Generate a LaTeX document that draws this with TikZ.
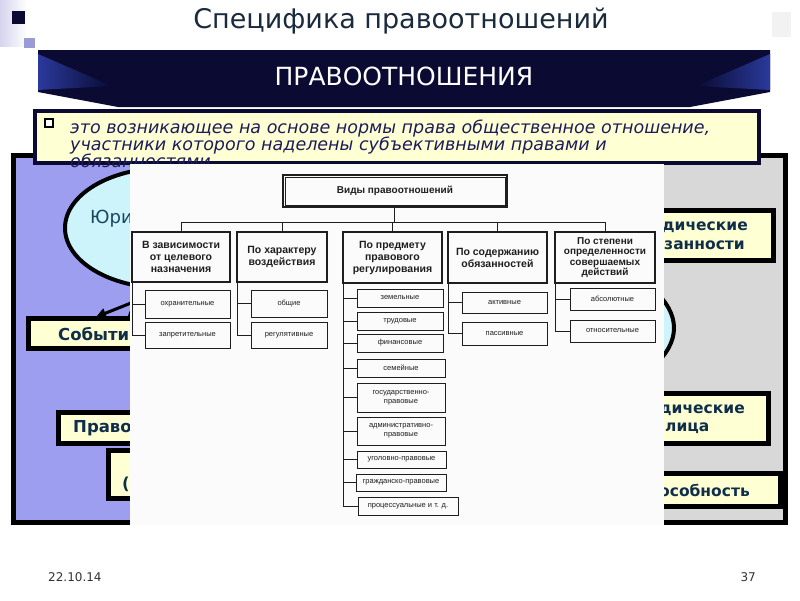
\documentclass[tikz,border=0pt]{standalone}
\usepackage{fontspec}
\setmainfont{DejaVu Sans}
\newfontfamily\scanfont{Liberation Sans}
\usetikzlibrary{arrows.meta,shapes.geometric}
\definecolor{navy}{HTML}{0A0A32}
\definecolor{foldblue}{HTML}{2A3A9C}
\definecolor{titlecol}{HTML}{1B2B3E}
\definecolor{defcol}{HTML}{1C1C5A}
\definecolor{cream}{HTML}{FFFFD4}
\definecolor{lavpanel}{HTML}{9E9EF0}
\definecolor{greypanel}{HTML}{D8D8D8}
\definecolor{cyanfill}{HTML}{CCF4FA}
\definecolor{boxtext}{HTML}{0E2E4A}
\definecolor{scanink}{HTML}{1E1E1E}
\definecolor{scanbg}{HTML}{FBFBFB}
\definecolor{footcol}{HTML}{333333}
\definecolor{lavtop}{HTML}{D4D4EE}
\definecolor{lavsq}{HTML}{9A9AD6}
\definecolor{factcol}{HTML}{1A4560}
\begin{document}
\begin{tikzpicture}[x=1pt,y=-1pt,
  slbox/.style={draw=black, line width=5pt, fill=cream, inner sep=0pt, outer sep=0pt, anchor=north west},
  sltext/.style={text=boxtext, font=\bfseries\fontsize{16.5}{19}\selectfont, inner sep=0pt},
  deftext/.style={text=defcol, font=\itshape\fontsize{17.5}{20}\selectfont, inner sep=0pt, anchor=base west},
  colhead/.style={draw=scanink, line width=1.1pt, fill=scanbg, inner sep=0pt, outer sep=0pt, align=center, text=scanink, font=\scanfont\bfseries\fontsize{10.5}{12}\selectfont, anchor=north west},
  itembox/.style={draw=scanink, line width=0.8pt, fill=scanbg, inner sep=0pt, outer sep=0pt, align=center, text=scanink, font=\scanfont\fontsize{7.5}{9}\selectfont, anchor=north west},
  link/.style={draw=scanink, line width=0.9pt},
]
\useasboundingbox (0,0) rectangle (800,600);
\fill[white] (0,0) rectangle (800,600);
% decoration
\shade[left color=lavtop, right color=white] (0,0) rectangle (27,46);
\fill[navy] (12,11) rectangle (25,24);
\fill[lavsq] (24,38) rectangle (35,48);
\fill[black!5] (772,12) rectangle (791,37);
% title
\node[text=titlecol, font=\fontsize{27}{30}\selectfont] (title) at (401,21) {Специфика правоотношений};
% banner
\fill[navy] (38,50) -- (770,50) -- (770,92) -- (690,107) -- (118,107) -- (38,92) -- cycle;
\shade[left color=foldblue, right color=navy] (38,54) -- (112,86) -- (38,90) -- cycle;
\shade[left color=navy, right color=foldblue] (770,54) -- (696,86) -- (770,90) -- cycle;
\node[text=white, font=\fontsize{25}{28}\selectfont] (banner) at (404,76) {ПРАВООТНОШЕНИЯ};
% panels
\fill[lavpanel] (13,155) rectangle (400,522);
\fill[greypanel] (400,155) rectangle (785,522);
\draw[line width=5pt] (13,155) rectangle (785,522);
% ellipses
\node[ellipse, draw, line width=4pt, fill=cyanfill, minimum width=200, minimum height=120, inner sep=0pt] (facts) at (165,228) {};
\node[ellipse, draw, line width=4pt, fill=cyanfill, minimum width=546, minimum height=200, inner sep=0pt] (rel) at (401,328) {};
\node[text=factcol, font=\fontsize{18}{20}\selectfont, anchor=west, inner sep=0pt] (factst) at (90,219) {Юри};
% arrow
\coordinate (a1) at (131,303);
\coordinate (a2) at (96,317);
\draw[line width=3pt, -{Triangle[length=10pt,width=10pt]}] (a1) -- (a2);
% left boxes
\node[slbox, minimum width=125, minimum height=30] (ev) at (28,318) {};
\node[sltext, anchor=west] (evt) at (58,334) {Событи};
\node[slbox, minimum width=95, minimum height=31] (pr) at (58,412) {};
\node[sltext, anchor=west] (prt) at (73,428) {Право};
\node[slbox, minimum width=45, minimum height=48] (pa) at (108,450) {};
\node[sltext, anchor=west] (pat) at (122,484) {(};
% right boxes
\node[slbox, minimum width=133, minimum height=50] (b1) at (640,210) {};
\node[sltext, anchor=east, font=\bfseries\fontsize{15.5}{18}\selectfont] (b1a) at (748,227) {дические};
\node[sltext, anchor=east, font=\bfseries\fontsize{15.5}{18}\selectfont] (b1b) at (745,245) {занности};
\node[slbox, minimum width=128, minimum height=50] (b2) at (640,393) {};
\node[sltext, anchor=east, font=\bfseries\fontsize{15.5}{18}\selectfont] (b2a) at (745,410) {дические};
\node[sltext, anchor=west, font=\bfseries\fontsize{15.5}{18}\selectfont] (b2b) at (665,428) {лица};
\node[slbox, minimum width=140, minimum height=33] (b3) at (640,473) {};
\node[sltext, anchor=east, font=\bfseries\fontsize{15.5}{18}\selectfont] (b3a) at (750,490) {особность};
% definition box
\node[draw=navy, line width=4pt, fill=cream, minimum width=724, minimum height=52, anchor=north west, inner sep=0pt] (def) at (33,109) {};
\node[draw=black, line width=1.2pt, fill=white, minimum size=8, inner sep=0pt] (bul) at (49,123) {};
\node[deftext] (d1) at (70,133) {это возникающее на основе нормы права общественное отношение,};
\node[deftext] (d2) at (70,150) {участники которого наделены субъективными правами и};
\node[deftext] (d3) at (70,167) {обязанностями};
% scanned chart
\node[fill=scanbg, minimum width=534, minimum height=361, anchor=north west, inner sep=0pt] (scan) at (130,164) {};
\node[draw=scanink, line width=1.8pt, minimum width=224, minimum height=32, anchor=north west, inner sep=0pt, font=\scanfont\bfseries\fontsize{10}{12}\selectfont, text=scanink] (vid) at (282,174) {Виды правоотношений};
\draw[scanink, line width=0.6pt] ([shift={(3,3)}]vid.north west) rectangle ([shift={(-3,-3)}]vid.south east);
\node[colhead, minimum width=98, minimum height=50] (c1) at (132,232) {В зависимости\\от целевого\\назначения};
\node[colhead, minimum width=90, minimum height=50] (c2) at (237,232) {По характеру\\воздействия};
\node[colhead, minimum width=99, minimum height=51] (c3) at (343,232) {По предмету\\правового\\регулирования};
\node[colhead, minimum width=99, minimum height=51] (c4) at (448,232) {По содержанию\\обязанностей};
\node[colhead, minimum width=100, minimum height=51, font=\scanfont\bfseries\fontsize{10}{10.2}\selectfont] (c5) at (555,232) {По степени\\определенности\\совершаемых\\действий};
\coordinate (bus) at (0,222);
\draw[link] (vid.south) -- (vid.south |- bus);
\draw[link] (c1.north |- bus) -- (c5.north |- bus);
\foreach \c in {c1,c2,c3,c4,c5} \draw[link] (\c.north) -- (\c.north |- bus);
% items
\node[itembox, minimum width=85, minimum height=28] (i11) at (145,290) {охранительные};
\node[itembox, minimum width=85, minimum height=26] (i12) at (145,322) {запретительные};
\node[itembox, minimum width=76, minimum height=27] (i21) at (251,290) {общие};
\node[itembox, minimum width=76, minimum height=26] (i22) at (251,322) {регулятивные};
\node[itembox, minimum width=86, minimum height=18] (i31) at (357,289) {земельные};
\node[itembox, minimum width=86, minimum height=18] (i32) at (357,312) {трудовые};
\node[itembox, minimum width=86, minimum height=18] (i33) at (357,334) {финансовые};
\node[itembox, minimum width=88, minimum height=18] (i34) at (357,359) {семейные};
\node[itembox, minimum width=88, minimum height=29] (i35) at (357,383) {государственно-\\правовые};
\node[itembox, minimum width=88, minimum height=28] (i36) at (357,417) {административно-\\правовые};
\node[itembox, minimum width=89, minimum height=17] (i37) at (357,451) {уголовно-правовые};
\node[itembox, minimum width=90, minimum height=17] (i38) at (356,474) {гражданско-правовые};
\node[itembox, minimum width=100, minimum height=18] (i39) at (358,497) {процессуальные и т. д.};
\node[itembox, minimum width=85, minimum height=21] (i41) at (462,292) {активные};
\node[itembox, minimum width=85, minimum height=23] (i42) at (462,322) {пассивные};
\node[itembox, minimum width=85, minimum height=22] (i51) at (570,288) {абсолютные};
\node[itembox, minimum width=85, minimum height=22] (i52) at (570,320) {относительные};
\foreach \i in {i11,i12} \draw[link] (c1.south west) |- (\i.west);
\foreach \i in {i21,i22} \draw[link] (c2.south west) |- (\i.west);
\foreach \i in {i31,i32,i33,i34,i35,i36,i37,i38,i39} \draw[link] (c3.south west) |- (\i.west);
\foreach \i in {i41,i42} \draw[link] (c4.south west) |- (\i.west);
\foreach \i in {i51,i52} \draw[link] (c5.south west) |- (\i.west);
% footer
\node[text=footcol, font=\fontsize{12}{14}\selectfont, anchor=west, inner sep=0pt] (date) at (48,577) {22.10.14};
\node[text=footcol, font=\fontsize{12}{14}\selectfont, anchor=east, inner sep=0pt] (page) at (756,577) {37};
\end{tikzpicture}
\end{document}
